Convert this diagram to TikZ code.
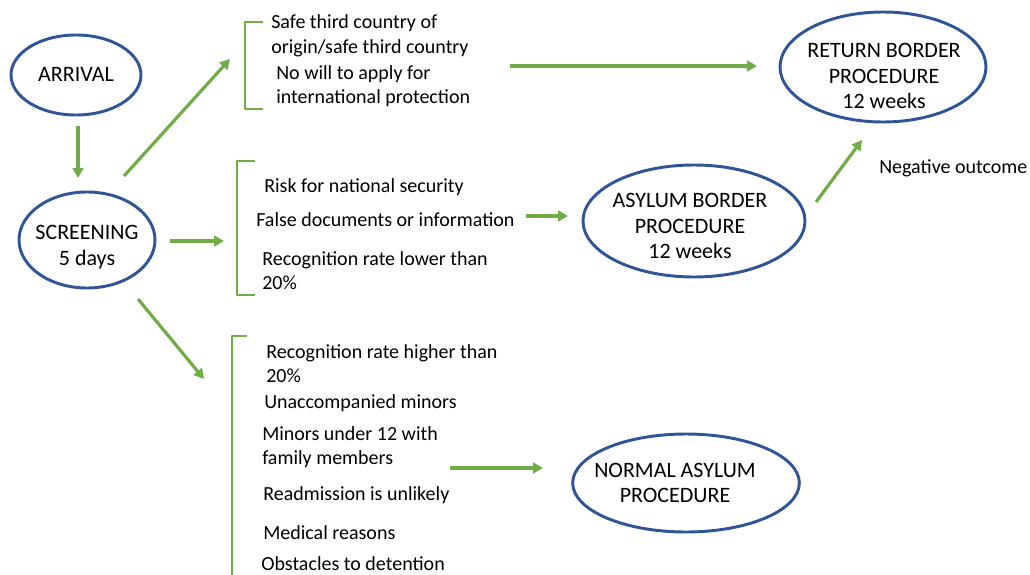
\documentclass[tikz,border=0pt]{standalone}
\usepackage{fontspec}
\setmainfont{Carlito}
\usetikzlibrary{shapes.geometric,arrows.meta}
\definecolor{ovalblue}{HTML}{2F5597}
\definecolor{flowgreen}{HTML}{70AD47}
\begin{document}
\begin{tikzpicture}[x=0.75pt,y=-0.75pt,font=\fontsize{15}{18.4}\selectfont,
 line join=round, >={Triangle[length=7.5pt,width=8pt]},
 oval/.style={ellipse,draw=ovalblue,line width=2.2pt,inner sep=0pt},
 ovaltext/.style={align=center,inner sep=0pt,font=\fontsize{16.5}{19}\selectfont},
 flow/.style={->,draw=flowgreen,line width=2.4pt},
 bracket/.style={draw=flowgreen,line width=1.6pt},
 item/.style={anchor=west,align=left,inner sep=0pt}]
 \useasboundingbox (0,0) rectangle (1030,574);
 % procedures
 \node[oval,minimum width=97.5pt,minimum height=60pt] (arrival) at (76,75) {};
 \node[ovaltext] (arrivalText) at (76,74) {ARRIVAL};
 \node[oval,minimum width=102pt,minimum height=72pt] (screening) at (87,240) {};
 \node[ovaltext] (screeningText) at (87,247) {SCREENING\\5 days};
 \node[oval,minimum width=154.5pt,minimum height=82.5pt] (return) at (883,67) {};
 \node[ovaltext] (returnText) at (884,76) {RETURN BORDER\\PROCEDURE\\12 weeks};
 \node[oval,minimum width=166.5pt,minimum height=84pt] (asylum) at (694,221) {};
 \node[ovaltext] (asylumText) at (690,226) {ASYLUM BORDER\\PROCEDURE\\12 weeks};
 \node[oval,minimum width=170pt,minimum height=73.5pt] (normal) at (686,483) {};
 \node[ovaltext] (normalText) at (675,483) {NORMAL ASYLUM\\PROCEDURE};
 % criteria
 \node[item] (safe) at (271,36) {Safe third country of\\origin/safe third country};
 \node[item] (nowill) at (276,86) {No will to apply for\\international protection};
 \node[item] (risk) at (264,187) {Risk for national security};
 \node[item] (false) at (256,220) {False documents or information};
 \node[item] (lower) at (262,270.5) {Recognition rate lower than\\20\%};
 \node[item] (higher) at (266,363.5) {Recognition rate higher than\\20\%};
 \node[item] (unacc) at (264,403) {Unaccompanied minors};
 \node[item] (minors) at (262,447) {Minors under 12 with\\family members};
 \node[item] (readm) at (263,495) {Readmission is unlikely};
 \node[item] (medical) at (263,533) {Medical reasons};
 \node[item] (obst) at (261,564) {Obstacles to detention};
 \node[item] (negative) at (879,168) {Negative outcome};
 % brackets
 \draw[bracket] (263,22) -- (245,22) -- (245,109) -- (263,109);
 \draw[bracket] (255,161) -- (237,161) -- (237,295) -- (255,295);
 \draw[bracket] (247,336) -- (232,336) -- (232,580);
 % arrow ends
 \coordinate (arrOut) at (78,126);   \coordinate (scrIn) at (78,178);
 \coordinate (scrUp) at (124,176);   \coordinate (upIn) at (230,59);
 \coordinate (scrMid) at (170,241);  \coordinate (midIn) at (224,241);
 \coordinate (scrLow) at (138,299);  \coordinate (lowIn) at (204,379);
 \coordinate (upOut) at (510,66);    \coordinate (retIn) at (757,66);
 \coordinate (midOut) at (526,216);  \coordinate (asyIn) at (568,216);
 \coordinate (asyOut) at (816,202);  \coordinate (retIn2) at (862,140);
 \coordinate (lowOut) at (450,468);  \coordinate (norIn) at (543,468);
 \draw[flow] (arrOut) -- (scrIn);
 \draw[flow] (scrUp) -- (upIn);
 \draw[flow] (scrMid) -- (midIn);
 \draw[flow] (scrLow) -- (lowIn);
 \draw[flow] (upOut) -- (retIn);
 \draw[flow] (midOut) -- (asyIn);
 \draw[flow] (asyOut) -- (retIn2);
 \draw[flow] (lowOut) -- (norIn);
\end{tikzpicture}
\end{document}
